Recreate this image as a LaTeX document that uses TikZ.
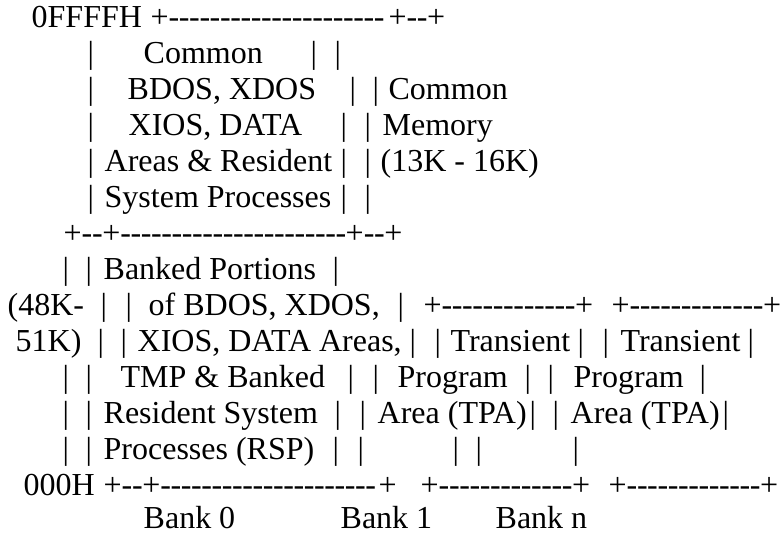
\documentclass[tikz,border=0pt]{standalone}
\usepackage{fontspec}
\setmainfont{Liberation Serif}
% text piece at a given distance from the left edge
\newcommand\atx[2]{\makebox[0pt][l]{\hspace*{#1pt}#2}\ignorespaces}
\newcommand\dashes[1]{\foreach \k in {1,...,#1}{-\kern-0.4pt}}

\begin{document}
\begin{tikzpicture}[x=1pt,y=-1pt,
  row/.style={anchor=base west,inner sep=0pt,font=\fontsize{32}{36}\selectfont}]
\useasboundingbox (0,0) rectangle (780,537);
% common part
\node[row] (r1) at (0,28) {\atx{31}{0FFFFH} \atx{150}{+\dashes{21}} \atx{388}{+\dashes{2}+}};
\node[row] (r2) at (0,64) {\atx{87}{|} \atx{143}{Common} \atx{310}{|} \atx{334}{|}};
\node[row] (r3) at (0,100) {\atx{87}{|} \atx{127}{BDOS, XDOS} \atx{349}{|} \atx{372}{|} \atx{388}{Common}};
\node[row] (r4) at (0,136) {\atx{87}{|} \atx{128}{XIOS, DATA} \atx{340}{|} \atx{364}{|} \atx{382}{Memory}};
\node[row] (r5) at (0,172) {\atx{87}{|} \atx{104}{Areas \& Resident} \atx{340}{|} \atx{364}{|} \atx{380}{(13K - 16K)}};
\node[row] (r6) at (0,208) {\atx{87}{|} \atx{104}{System Processes} \atx{340}{|} \atx{364}{|}};
\node[row] (r7) at (0,244) {\atx{63}{+\dashes{2}+\dashes{22}} \atx{345}{+\dashes{2}+}};
% banked part
\node[row] (r8) at (0,280) {\atx{62}{|} \atx{85}{|} \atx{103}{Banked Portions} \atx{332}{|}};
\node[row] (r9) at (0,316) {\atx{7}{(48K-} \atx{100}{|} \atx{125}{|} \atx{148}{of BDOS, XDOS,} \atx{397}{|}
  \atx{423}{+\dashes{13}+} \atx{611}{+\dashes{13}+}};
\node[row] (r10) at (0,352) {\atx{15}{51K)} \atx{97}{|} \atx{120}{|} \atx{137}{XIOS, DATA Areas,} \atx{409}{|}
  \atx{434}{|} \atx{450}{Transient} \atx{577}{|} \atx{602}{|} \atx{620}{Transient} \atx{747}{|}};
\node[row] (r11) at (0,388) {\atx{62}{|} \atx{85}{|} \atx{120}{TMP \& Banked} \atx{347}{|} \atx{372}{|}
  \atx{397}{Program} \atx{524}{|} \atx{547}{|} \atx{573}{Program} \atx{699}{|}};
\node[row] (r12) at (0,424) {\atx{62}{|} \atx{85}{|} \atx{103}{Resident System} \atx{334}{|} \atx{359}{|}
  \atx{377}{Area (TPA)} \atx{529}{|} \atx{552}{|} \atx{570}{Area (TPA)} \atx{722}{|}};
\node[row] (r13) at (0,460) {\atx{62}{|} \atx{85}{|} \atx{103}{Processes (RSP)} \atx{332}{|} \atx{357}{|}
  \atx{452}{|} \atx{475}{|} \atx{572}{|}};
\node[row] (r14) at (0,496) {\atx{23}{000H} \atx{103}{+\dashes{2}+\dashes{21}} \atx{378}{+}
  \atx{420}{+\dashes{13}+} \atx{608}{+\dashes{13}+}};
% bank names
\node[row] (r15) at (0,529) {\atx{143}{Bank 0} \atx{340}{Bank 1} \atx{495}{Bank n}};
\end{tikzpicture}
\end{document}
